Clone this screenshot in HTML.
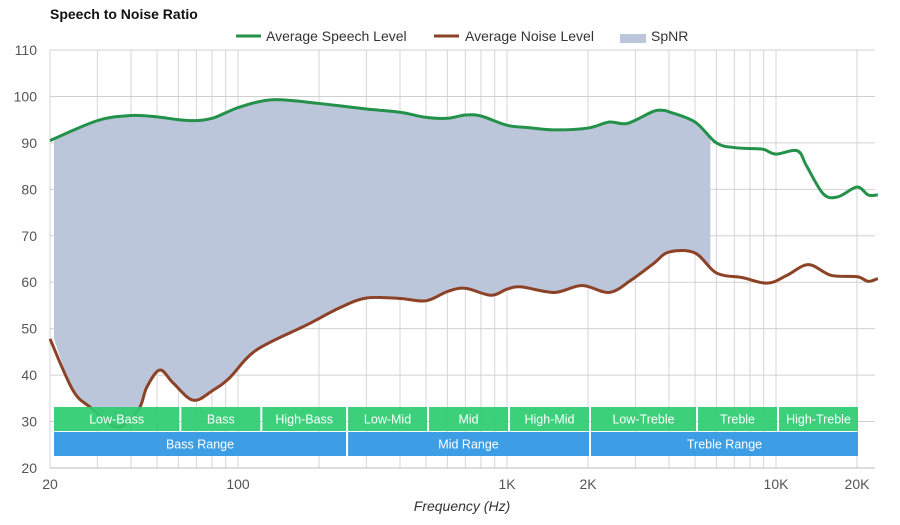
<!DOCTYPE html>
<html><head><meta charset="utf-8"><style>
body{margin:0;background:#fff;font-family:"Liberation Sans",sans-serif}
svg text{font-family:"Liberation Sans",sans-serif}
</style></head><body>
<svg id="c" width="900" height="520">
<text x="50" y="19" font-size="14" font-weight="bold" fill="#111">Speech to Noise Ratio</text>
<g>
<g><line x1="236" y1="36" x2="261" y2="36" stroke="#23914a" stroke-width="3"/><text x="266" y="41" font-size="14" fill="#333">Average Speech Level</text></g>
<g><line x1="434" y1="36" x2="459" y2="36" stroke="#8b4226" stroke-width="3"/><text x="465" y="41" font-size="14" fill="#333">Average Noise Level</text></g>
<g><rect x="620" y="34" width="26" height="9" fill="#bcc6da"/><text x="651" y="41" font-size="14" fill="#333">SpNR</text></g>
</g>
<g id="grid"></g><g id="fill"></g><g id="lines"></g><g id="bands"></g><g id="axes"></g>
<text x="462" y="511" font-size="14" font-style="italic" fill="#333" text-anchor="middle">Frequency (Hz)</text>
</svg>
<script>
const speechFreq=[20,30,40,50,60,70,80,90,100,120,144,200,300,400,500,600,700,800,1000,1200,1500,2000,2400,2800,3500,3800,4000,5000,6000,7000,8000,9000,10000,12000,13000,15000,17000,20000,22000,23900];
const speechDb=[90.5,94.8,95.9,95.6,95,94.8,95.3,96.5,97.6,98.9,99.3,98.5,97.3,96.6,95.5,95.3,96,95.8,93.8,93.3,92.8,93.2,94.5,94.2,96.8,97,96.7,94.5,90,89,88.8,88.6,87.6,88.3,85,79,78.4,80.5,78.8,78.8];
const noiseFreq=[20,24.3,28.2,35.6,42.6,45.8,51.2,57.4,68.2,81,93,117,180,239,300,400,500,600,700,870,1000,1130,1500,1900,2400,2900,3500,4000,5000,6000,7500,9300,11000,13200,16000,20000,22000,23900];
const noiseDb=[47.8,36.8,33.1,28.8,32.5,37.4,41.1,38.3,34.6,36.8,39.4,45.4,50.8,54.5,56.6,56.5,56,58,58.7,57.2,58.5,59,57.8,59.3,57.8,60.5,64,66.5,66.3,62,61,59.8,61.5,63.8,61.5,61.2,60.2,60.8];
const fillEnd=5700;
const yTicks=[20,30,40,50,60,70,80,90,100,110];
const xLabels=[[20,'20'],[100,'100'],[1000,'1K'],[2000,'2K'],[10000,'10K'],[20000,'20K']];
const subBands=[['Low-Bass',20,60],['Bass',60,120],['High-Bass',120,250],['Low-Mid',250,500],['Mid',500,1000],['High-Mid',1000,2000],['Low-Treble',2000,5000],['Treble',5000,10000],['High-Treble',10000,20000]];
const mainBands=[['Bass Range',20,250],['Mid Range',250,2000],['Treble Range',2000,20000]];
const NS='http://www.w3.org/2000/svg';
const X=f=>50+(Math.log10(f)-Math.log10(20))*269;
const Y=v=>468-(v-20)*4.644;
function mk(t,a,p){const e=document.createElementNS(NS,t);for(const k in a)e.setAttribute(k,a[k]);p.appendChild(e);return e;}
const G=document.getElementById('grid'),A=document.getElementById('axes');
const gf=[];for(let d=10;d<=10000;d*=10)for(let m=1;m<10;m++){const f=d*m;if(f>=20&&f<=20000)gf.push(f);}
gf.forEach(f=>{const l=mk('line',{x1:X(f),x2:X(f),y1:50,y2:468,stroke:'#d6d6d6','stroke-width':1},G);

});
yTicks.forEach(v=>{const l=mk('line',{x1:50,x2:875,y1:Y(v),y2:Y(v),stroke:'#d0d0d0','stroke-width':1},G);


const t=mk('text',{x:37,y:Y(v)+5,'font-size':14,fill:'#555','text-anchor':'end'},A);t.textContent=v;

});
xLabels.forEach(([f,s])=>{const t=mk('text',{x:X(f),y:489,'font-size':14,fill:'#555','text-anchor':'middle'},A);t.textContent=s;

});
const ax=mk('line',{x1:50,x2:875,y1:468,y2:468,stroke:'#bbb'},A);


function pts(F,D){return F.map((f,i)=>[X(f),Y(D[i])]);}
function cr(p,move=true){let d=move?`M${p[0][0]},${p[0][1]}`:`L${p[0][0]},${p[0][1]}`;
for(let i=0;i<p.length-1;i++){const p0=p[i-1]||p[i],p1=p[i],p2=p[i+1],p3=p[i+2]||p2;
d+=`C${p1[0]+(p2[0]-p0[0])/6},${p1[1]+(p2[1]-p0[1])/6} ${p2[0]-(p3[0]-p1[0])/6},${p2[1]-(p3[1]-p1[1])/6} ${p2[0]},${p2[1]}`;}return d;}
function interp(F,D,f){for(let i=0;i<F.length-1;i++)if(f>=F[i]&&f<=F[i+1]){const t=(Math.log(f)-Math.log(F[i]))/(Math.log(F[i+1])-Math.log(F[i]));return D[i]+t*(D[i+1]-D[i]);}return D[D.length-1];}
const sF=[],sD=[];speechFreq.forEach((f,i)=>{if(f<fillEnd){sF.push(f);sD.push(speechDb[i]);}});sF.push(fillEnd);sD.push(interp(speechFreq,speechDb,fillEnd));
const nF=[],nD=[];noiseFreq.forEach((f,i)=>{if(f<fillEnd){nF.push(f);nD.push(noiseDb[i]);}});nF.push(fillEnd);nD.push(interp(noiseFreq,noiseDb,fillEnd));
const sp=pts(sF,sD);sp[0][0]=54;const np=pts(nF,nD).reverse();np[np.length-1][0]=54;
const fp=mk('path',{d:cr(sp)+cr(np,false)+'Z',fill:'#bcc6da'},document.getElementById('fill'));


const L=document.getElementById('lines');
const s1=mk('path',{d:cr(pts(speechFreq,speechDb)),fill:'none',stroke:'#23914a','stroke-width':3},L);


const s2=mk('path',{d:cr(pts(noiseFreq,noiseDb)),fill:'none',stroke:'#8b4226','stroke-width':3},L);


const B=document.getElementById('bands');
function band(arr,y,h,col,nm){arr.forEach(([s,a,b])=>{const x1=a==20?54:X(a)+3,x2=X(b)+1;
const g=mk('g',{},B);


mk('rect',{x:x1,y:y,width:x2-x1,height:h,fill:col,opacity:0.93},g);
const t=mk('text',{x:(x1+x2)/2,y:y+h/2+4.5,'font-size':12.5,fill:'#fff','text-anchor':'middle'},g);t.textContent=s;});}
band(subBands,407,24,'#2ecc71','band');
band(mainBands,432,24,'#2e97e3','range');
</script>
</body></html>
